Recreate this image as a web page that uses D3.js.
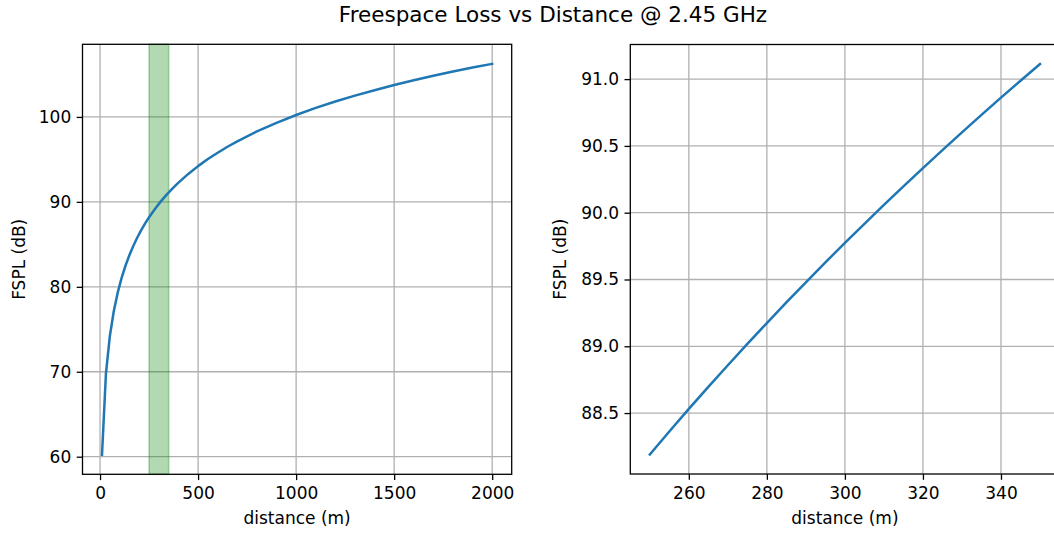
<!DOCTYPE html>
<html>
<head>
<meta charset="utf-8">
<script src="https://cdn.jsdelivr.net/npm/d3@7"></script>
<style>
  html, body { margin: 0; padding: 0; background: #fff; overflow: hidden; }
  svg { display: block; font-family: "DejaVu Sans", sans-serif; }
</style>
</head>
<body>
<svg id="chart" width="1054" height="539"></svg>
<script>
// Free-space path loss at 2.45 GHz, full range and zoomed window
const titleText = "Freespace Loss vs Distance @ 2.45 GHz";
const xLabel = "distance (m)";
const yLabel = "FSPL (dB)";

// full-range curve (metres, dB)
const distFull = [10, 30, 50, 70, 90, 110, 130, 150, 170, 190, 210, 230, 250, 280, 310, 340, 370, 400, 450, 500,
  550, 600, 650, 700, 800, 900, 1000, 1100, 1200, 1300, 1400, 1500, 1600, 1700, 1800, 1900, 2000];
const lossFull = [60.23, 69.77, 74.21, 77.13, 79.31, 81.06, 82.51, 83.75, 84.84, 85.81, 86.67, 87.46, 88.19, 89.17, 90.06, 90.86, 91.59, 92.27, 93.29, 94.21,
  95.04, 95.79, 96.49, 97.13, 98.29, 99.31, 100.23, 101.06, 101.81, 102.51, 103.15, 103.75, 104.31, 104.84, 105.34, 105.81, 106.25];

// highlighted window
const spanRange = [250, 350];

// zoomed curve
const distZoom = [250, 255, 260, 265, 270, 275, 280, 285, 290, 295, 300, 305, 310, 315, 320, 325, 330, 335, 340, 345, 350];
const lossZoom = [88.190, 88.362, 88.531, 88.696, 88.858, 89.018, 89.174, 89.328, 89.479, 89.628, 89.774,
  89.917, 90.058, 90.197, 90.334, 90.469, 90.601, 90.732, 90.861, 90.988, 91.113];

// tick values
const xTicksFull = [0, 500, 1000, 1500, 2000];
const yTicksFull = [60, 70, 80, 90, 100];
const xTicksZoom = [260, 280, 300, 320, 340];
const yTicksZoom = [88.5, 89.0, 89.5, 90.0, 90.5, 91.0];

const svg = d3.select("#chart");
const lineColor = "#1f77b4";
const gridColor = "#b0b0b0";
const tickFont = 17;

// padded domain, 5% each side
function padded(vals) {
  const [a, b] = d3.extent(vals);
  const m = (b - a) * 0.05;
  return [a - m, b + m];
}

svg.append("text")
  .attr("x", 553).attr("y", 22)
  .attr("text-anchor", "middle")
  .attr("font-size", 21.5)
  .attr("fill", "#000")
  .text(titleText);

function panel(opts) {
  const { left, right, top, bottom, xs, ys, xTicks, yTicks, yFmt, span, yLabelX } = opts;
  const x = d3.scaleLinear().domain(padded(xs)).range([left, right]);
  const y = d3.scaleLinear().domain(padded(ys)).range([bottom, top]);
  const g = svg.append("g");

  // grid
  g.append("g").selectAll("line").data(xTicks).join("line")
    .attr("x1", d => x(d)).attr("x2", d => x(d))
    .attr("y1", top).attr("y2", bottom)
    .attr("stroke", gridColor).attr("stroke-width", 1.3);
  g.append("g").selectAll("line").data(yTicks).join("line")
    .attr("x1", left).attr("x2", right)
    .attr("y1", d => y(d)).attr("y2", d => y(d))
    .attr("stroke", gridColor).attr("stroke-width", 1.3);

  // shaded window
  if (span) {
    g.append("rect")
      .attr("x", x(span[0])).attr("width", x(span[1]) - x(span[0]))
      .attr("y", top).attr("height", bottom - top)
      .attr("fill", "green").attr("fill-opacity", 0.3)
      .attr("stroke", "green").attr("stroke-opacity", 0.3).attr("stroke-width", 1.6);
  }

  // curve
  const pts = xs.map((d, i) => [d, ys[i]]);
  g.append("path")
    .datum(pts)
    .attr("fill", "none")
    .attr("stroke", lineColor)
    .attr("stroke-width", 2.5)
    .attr("stroke-linejoin", "round")
    .attr("stroke-linecap", "square")
    .attr("d", d3.line().x(d => x(d[0])).y(d => y(d[1])));

  // axes
  const xAxis = d3.axisBottom(x).tickValues(xTicks).tickSize(5.8).tickPadding(5.5).tickFormat(d3.format("d"));
  const yAxis = d3.axisLeft(y).tickValues(yTicks).tickSize(5.8).tickPadding(5.5).tickFormat(yFmt);

  const gx = g.append("g").attr("transform", `translate(0,${bottom})`).call(xAxis);
  const gy = g.append("g").attr("transform", `translate(${left},0)`).call(yAxis);
  [gx, gy].forEach(a => {
    a.select(".domain").remove();
    a.selectAll(".tick line").attr("stroke", "#000").attr("stroke-width", 1.3);
    a.selectAll(".tick text").attr("font-size", tickFont).attr("fill", "#000").attr("font-family", "DejaVu Sans");
  });
  gx.selectAll(".tick text").attr("dy", "0.78em");

  // frame
  g.append("rect")
    .attr("x", left).attr("y", top)
    .attr("width", right - left).attr("height", bottom - top)
    .attr("fill", "none").attr("stroke", "#000").attr("stroke-width", 1.3);

  // axis titles
  g.append("text")
    .attr("x", (left + right) / 2).attr("y", 524)
    .attr("text-anchor", "middle").attr("font-size", tickFont).attr("fill", "#000")
    .text(xLabel);
  g.append("text")
    .attr("transform", `translate(${yLabelX},${(top + bottom) / 2}) rotate(-90)`)
    .attr("text-anchor", "middle").attr("font-size", tickFont).attr("fill", "#000")
    .text(yLabel);
}

panel({
  left: 82.5, right: 511.7, top: 44.3, bottom: 474.3,
  xs: distFull, ys: lossFull,
  xTicks: xTicksFull, yTicks: yTicksFull,
  yFmt: d3.format("d"), span: spanRange, yLabelX: 25
});

panel({
  left: 630.3, right: 1059.5, top: 44.5, bottom: 474,
  xs: distZoom, ys: lossZoom,
  xTicks: xTicksZoom, yTicks: yTicksZoom,
  yFmt: d3.format(".1f"), span: null, yLabelX: 566
});
</script>
</body>
</html>
